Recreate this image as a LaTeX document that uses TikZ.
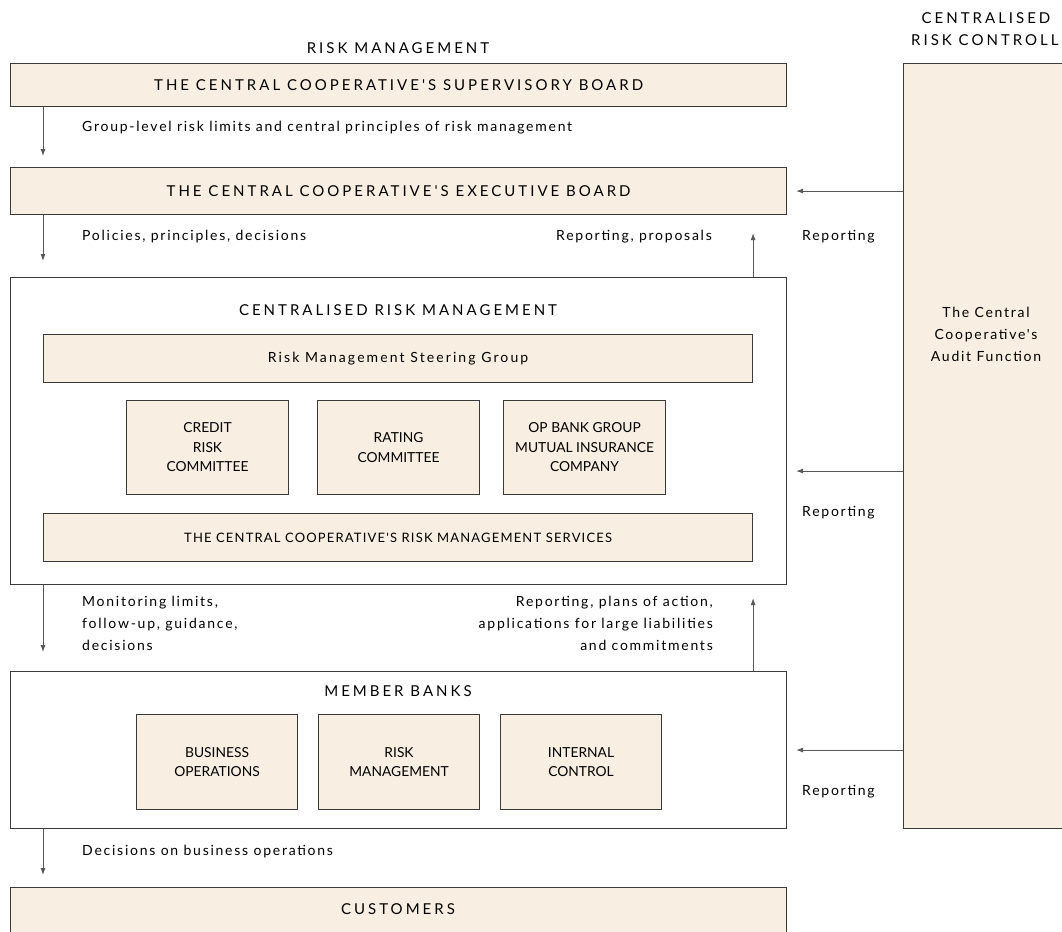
\documentclass[tikz,border=0pt]{standalone}
\usepackage{fontspec}
\setmainfont{Lato}
\newfontfamily\trackwide[LetterSpace=20]{Lato}
\newfontfamily\tracksteer[LetterSpace=15]{Lato}
\newfontfamily\trackserv[LetterSpace=9]{Lato}
\newfontfamily\tracktext[LetterSpace=12.5]{Lato}
\usetikzlibrary{arrows.meta,calc}

\definecolor{sand}{HTML}{F8EEE1}
\definecolor{edge}{HTML}{3A3A3A}

\tikzset{
  panel/.style={draw=edge,line width=1.1pt,fill=sand,anchor=north west,inner sep=0pt,align=center},
  frame/.style={draw=edge,line width=1.1pt,fill=white,anchor=north west,inner sep=0pt},
  flow/.style={draw=edge!85,line width=0.9pt,-{Latex[length=7pt,width=5pt]}},
  note/.style={font=\tracktext\fontsize{14}{22}\selectfont,inner sep=0pt},
  head/.style={font=\trackwide\fontsize{15}{22}\selectfont,inner sep=0pt},
  small/.style={font=\fontsize{13.8}{19.5}\selectfont},
}

\begin{document}
\begin{tikzpicture}[x=1pt,y=-1pt]
    \useasboundingbox (0,0) rectangle (1062,931);
    \clip (0,0) rectangle (1062,931);

    % column headings
    \node[head] (rmtitle) at (398,48) {RISK MANAGEMENT};
    \node[head] (crctop) at (986,18) {CENTRALISED};
    \node[head,anchor=west] (crcbot) at (911,40) {RISK CONTROLLING};

    % the chain of boards down the left
    \node[panel,minimum width=776pt,minimum height=43pt,head] (sup) at (10,63)
        {THE CENTRAL COOPERATIVE'S SUPERVISORY BOARD};
    \node[panel,minimum width=776pt,minimum height=47pt,head] (exec) at (10,167)
        {THE CENTRAL COOPERATIVE'S EXECUTIVE BOARD};
    \node[frame,minimum width=776pt,minimum height=307pt] (crm) at (10,277) {};
    \node[frame,minimum width=776pt,minimum height=157pt] (banks) at (10,671) {};
    \node[panel,minimum width=776pt,minimum height=60pt] (cust) at (10,887) {};
    \node[head] (custlbl) at (398,909) {CUSTOMERS};

    % inside centralised risk management
    \node[head] (crmlbl) at (398,310) {CENTRALISED RISK MANAGEMENT};
    \node[panel,minimum width=709pt,minimum height=48pt,font=\tracksteer\fontsize{14}{16}\selectfont]
        (steer) at (43,334) {Risk Management Steering Group};
    \node[panel,small,minimum width=162pt,minimum height=94pt] (credit) at (126,400)
        {CREDIT\\RISK\\COMMITTEE};
    \node[panel,small,minimum width=162pt,minimum height=94pt] (rating) at (317,400)
        {RATING\\COMMITTEE};
    \node[panel,small,minimum width=162pt,minimum height=94pt] (insur) at (503,400)
        {OP BANK GROUP\\MUTUAL INSURANCE\\COMPANY};
    \node[panel,minimum width=709pt,minimum height=48pt,font=\trackserv\fontsize{13}{16}\selectfont]
        (serv) at (43,513) {THE CENTRAL COOPERATIVE'S RISK MANAGEMENT SERVICES};

    % inside the member banks
    \node[head] (bankslbl) at (398,691) {MEMBER BANKS};
    \node[panel,small,minimum width=161pt,minimum height=95pt] (busops) at (136,714)
        {BUSINESS\\OPERATIONS};
    \node[panel,small,minimum width=161pt,minimum height=95pt] (riskmg) at (318,714)
        {RISK\\MANAGEMENT};
    \node[panel,small,minimum width=161pt,minimum height=95pt] (intctl) at (500,714)
        {INTERNAL\\CONTROL};

    % audit column
    \node[panel,minimum width=166pt,minimum height=765pt] (audit) at (903,63) {};
    \node[note,align=center] (auditlbl) at (986,334)
        {The Central\\Cooperative's\\Audit Function};

    % downward flows
    \draw[flow] ([xshift=33pt]sup.south west) -- ([xshift=33pt,yshift=11pt]exec.north west);
    \draw[flow] ([xshift=33pt]exec.south west) -- ([xshift=33pt,yshift=16pt]crm.north west);
    \draw[flow] ([xshift=33pt]crm.south west) -- ([xshift=33pt,yshift=19pt]banks.north west);
    \draw[flow] ([xshift=33pt]banks.south west) -- ([xshift=33pt,yshift=12pt]cust.north west);

    % upward flows
    \draw[flow] (steer.east |- crm.north) -- ($(steer.east |- exec.south)+(0,18)$);
    \draw[flow] (steer.east |- banks.north) -- ($(steer.east |- crm.south)+(0,13)$);

    % reporting from audit
    \draw[flow] (audit.west |- exec.east) -- ([xshift=9pt]exec.east);
    \draw[flow] ([yshift=-40pt]audit.west |- crm.east) -- ([xshift=9pt,yshift=-40pt]crm.east);
    \draw[flow] (audit.west |- banks.east) -- ([xshift=9pt]banks.east);

    % flow labels
    \node[note,anchor=west] (lim) at (82,128)
        {Group-level risk limits and central principles of risk management};
    \node[note,anchor=west] (pol) at (82,237) {Policies, principles, decisions};
    \node[note,anchor=east] (prop) at (712,237) {Reporting, proposals};
    \node[note,anchor=north west,align=left] (mon) at (82,596)
        {Monitoring limits,\\follow-up, guidance,\\decisions};
    \node[note,anchor=north east,align=right] (plans) at (713,596)
        {Reporting, plans of action,\\applications for large liabilities\\and commitments};
    \node[note,anchor=west] (dec) at (82,852) {Decisions on business operations};
    \node[note,anchor=west] (rep1) at (802,237) {Reporting};
    \node[note,anchor=west] (rep2) at (802,513) {Reporting};
    \node[note,anchor=west] (rep3) at (802,792) {Reporting};
\end{tikzpicture}
\end{document}
